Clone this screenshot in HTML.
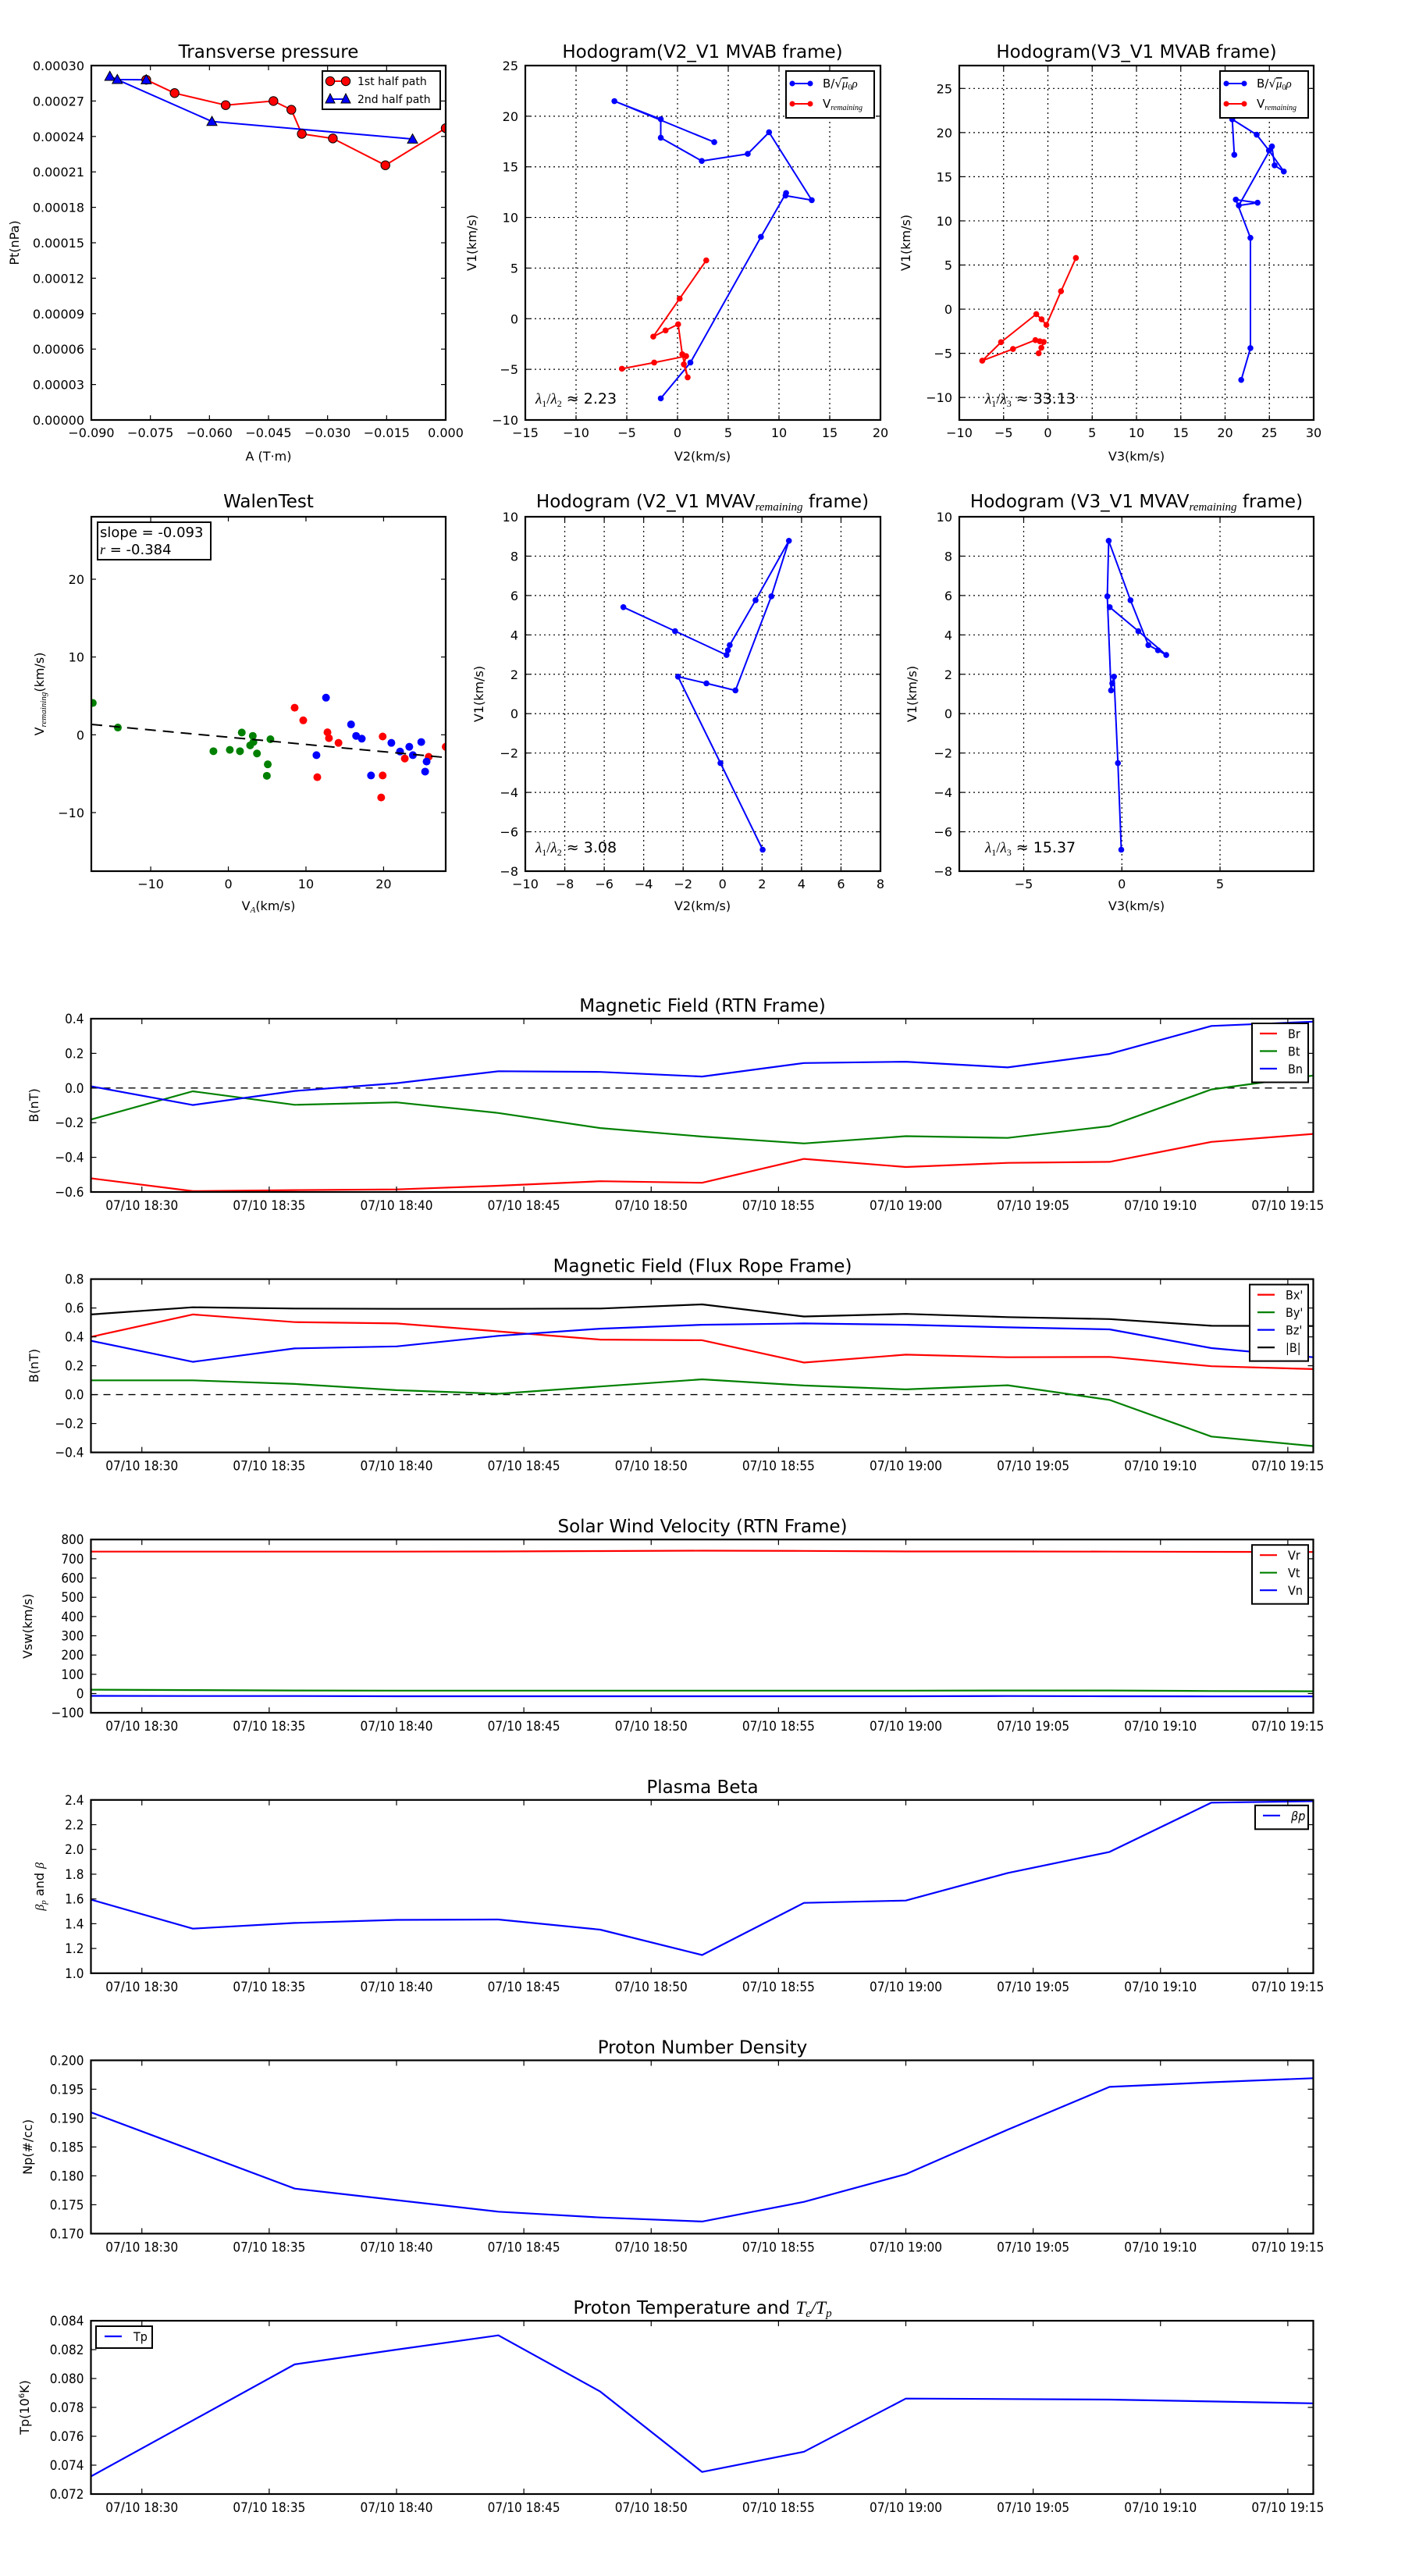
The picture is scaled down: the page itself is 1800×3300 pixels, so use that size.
<!DOCTYPE html>
<html><head><meta charset="utf-8"><title>Flux rope analysis figure</title>
<style>
html,body{margin:0;padding:0;background:#fff;}
svg{display:block;}
text{font-family:"DejaVu Sans","Liberation Sans",sans-serif;fill:#000;}
.cond{font-family:"DejaVu Sans Condensed","DejaVu Sans","Liberation Sans Narrow",sans-serif;}
</style></head>
<body>
<svg id="fig" xmlns="http://www.w3.org/2000/svg" width="1800" height="3300" viewBox="0 0 1800 3300"></svg>
<script>
// ---------- DATA ----------
const ptA1=[-0.07605,-0.06885,-0.05588,-0.04375,-0.0392,-0.03655,-0.02866,-0.01532,0.0];
const ptP1=[0.000288,0.0002767,0.0002665,0.00027,0.0002626,0.0002422,0.0002383,0.0002156,0.000247];
const ptA2=[-0.00842,-0.05937,-0.0853,-0.0834,-0.07605];
const ptP2=[0.0002378,0.0002527,0.0002909,0.0002882,0.000288];
const mvabBV2=[-1.65,1.27,8.22,10.70,10.64,13.23,9.02,6.92,2.39,-1.65,-1.65,-6.22,3.62];
const mvabBV1=[-7.87,-4.33,8.08,12.41,12.16,11.71,18.41,16.28,15.58,17.87,19.70,21.49,17.44];
const mvabVV2=[2.83,0.21,-2.39,-1.18,0.06,0.47,1.00,0.62,0.85,-2.30,-5.48];
const mvabVV1=[5.76,1.98,-1.77,-1.16,-0.55,-3.51,-5.79,-4.51,-3.69,-4.33,-4.94];
const mvabBV3=[21.82,22.86,22.86,21.21,23.67,21.55,25.29,25.59,26.63,24.95,23.57,20.81,21.04];
const mvabBV1b=[-8.01,-4.41,8.08,12.41,12.06,11.75,18.43,16.29,15.59,17.97,19.76,21.50,17.48];
const mvabVV3=[3.16,1.48,-0.17,-0.71,-1.31,-5.29,-7.41,-3.94,-1.41,-0.91,-0.47,-0.74,-1.04];
const mvabVV1b=[5.80,2.03,-1.78,-1.15,-0.56,-3.74,-5.84,-4.51,-3.50,-3.64,-3.71,-4.37,-5.00];
const walGX=[-17.46,-14.23,-1.92,0.19,1.5,1.73,2.81,3.15,3.23,3.69,5.08,4.96,5.42];
const walGY=[4.09,0.93,-2.11,-1.94,-2.11,0.29,-1.36,-0.14,-0.93,-2.4,-3.8,-5.27,-0.57];
const walRX=[8.54,9.65,11.46,12.77,12.96,14.19,19.69,19.88,19.88,22.73,25.81,28.0];
const walRY=[3.48,1.86,-5.45,0.32,-0.43,-1.04,-8.06,-0.22,-5.23,-3.05,-2.83,-1.54];
const walBX=[12.58,11.35,15.81,16.46,17.19,18.38,21.0,22.12,23.31,23.77,24.85,25.54,25.35];
const walBY=[4.77,-2.62,1.33,-0.14,-0.5,-5.23,-1.04,-2.15,-1.54,-2.62,-0.93,-3.44,-4.73];
const walSlope=-0.093;
const walIntercept=-0.31;
const mvavV2=[-5.03,-2.41,0.20,0.27,0.36,1.67,3.36,2.47,0.65,-0.82,-2.26,-0.11,2.03];
const mvavV1=[5.41,4.19,2.98,3.22,3.48,5.76,8.78,5.96,1.18,1.54,1.88,-2.51,-6.91];
const mvavV3=[-0.62,0.84,2.26,1.84,1.35,0.44,-0.67,-0.74,-0.55,-0.49,-0.40,-0.20,-0.03];
const tsTimes=['18:28','18:32','18:36','18:40','18:44','18:48','18:52','18:56','19:00','19:04','19:08','19:12','19:16'];
const tsTickLabels=['07/10 18:30','07/10 18:35','07/10 18:40','07/10 18:45','07/10 18:50','07/10 18:55','07/10 19:00','07/10 19:05','07/10 19:10','07/10 19:15'];
const Br=[-0.521,-0.595,-0.589,-0.585,-0.564,-0.538,-0.547,-0.409,-0.456,-0.432,-0.426,-0.311,-0.265];
const Bt=[-0.182,-0.019,-0.097,-0.083,-0.144,-0.231,-0.28,-0.32,-0.278,-0.288,-0.22,-0.008,0.072];
const Bn=[0.01,-0.098,-0.017,0.028,0.097,0.093,0.066,0.144,0.152,0.119,0.197,0.358,0.383];
const Bxp=[0.40,0.555,0.502,0.493,0.438,0.381,0.377,0.222,0.277,0.259,0.261,0.197,0.177];
const Byp=[0.099,0.099,0.074,0.031,0.006,0.056,0.106,0.063,0.036,0.065,-0.037,-0.29,-0.356];
const Bzp=[0.373,0.227,0.320,0.334,0.407,0.457,0.484,0.493,0.484,0.466,0.452,0.322,0.259];
const Bmag=[0.555,0.605,0.596,0.594,0.594,0.596,0.625,0.541,0.559,0.537,0.523,0.477,0.475];
const Vr=[737,737,737,737,738,740,742,741,738,738,737,736,735];
const Vt=[20,18,16,15,15,15,15,15,15,16,16,13,12];
const Vn=[-12,-13,-13,-14,-14,-14,-14,-14,-14,-13,-14,-15,-15];
const betaP=[1.595,1.36,1.406,1.431,1.434,1.352,1.147,1.568,1.587,1.81,1.98,2.378,2.39];
const Np=[0.1910,0.1844,0.1778,0.1758,0.1738,0.1728,0.1721,0.1755,0.1803,0.1880,0.1954,0.1962,0.1969];
const Tp=[0.07322,0.0771,0.08098,0.0820,0.08299,0.0791,0.07353,0.07493,0.07861,0.07858,0.07854,0.07841,0.07828];

// ---------- HELPERS ----------
const NS='http://www.w3.org/2000/svg';
const svg=document.getElementById('fig');
let clipId=0;
function el(tag,attrs,parent,name){
  const e=document.createElementNS(NS,tag);
  for(const k in attrs) e.setAttribute(k,attrs[k]);
  
  
  (parent||svg).appendChild(e);
  return e;
}
function txt(parent,x,y,str,size,anchor,name,cls){
  const t=el('text',{x:x,y:y,'font-size':size,'text-anchor':anchor||'middle'},parent,name);
  if(cls) t.setAttribute('class',cls);
  t.textContent=str;
  return t;
}
function span(t,str,attrs){
  const s=document.createElementNS(NS,'tspan');
  for(const k in attrs) s.setAttribute(k,attrs[k]);
  s.textContent=str;
  t.appendChild(s);
  return s;
}
function fmtNum(v,d){const s=Math.abs(v).toFixed(d);return (v<-1e-12?'\u2212':'')+s;}

function makePanel(c){
  const g=el('g',{},svg,c.name);
  const sx=v=>c.l+(v-c.x0)/(c.x1-c.x0)*c.w;
  const sy=v=>c.t+c.h-(v-c.y0)/(c.y1-c.y0)*c.h;
  const id='clip'+(clipId++);
  const cp=el('clipPath',{id:id},g,c.name+'-clip');
  el('rect',{x:c.l,y:c.t,width:c.w,height:c.h},cp,c.name+'-clip-rect');
  if(c.grid){
    c.xt.forEach(v=>{const x=sx(v);el('line',{x1:x,x2:x,y1:c.t,y2:c.t+c.h,stroke:'#000','stroke-width':1.2,'stroke-dasharray':'2,4'},g,'x-grid-line');});
    c.yt.forEach(v=>{const y=sy(v);el('line',{x1:c.l,x2:c.l+c.w,y1:y,y2:y,stroke:'#000','stroke-width':1.2,'stroke-dasharray':'2,4'},g,'y-grid-line');});
  }
  const data=el('g',{'clip-path':'url(#'+id+')'},g,c.name+'-data');
  return {g:g,data:data,sx:sx,sy:sy,c:c};
}
function finishPanel(p){
  const c=p.c,g=p.g,tl=c.tick||6;
  const cls=c.cls||null;
  c.xt.forEach((v,i)=>{
    const x=p.sx(v);
    el('line',{x1:x,x2:x,y1:c.t+c.h,y2:c.t+c.h-tl,stroke:'#000','stroke-width':1.2},g,'x-tick');
    el('line',{x1:x,x2:x,y1:c.t,y2:c.t+tl,stroke:'#000','stroke-width':1.2},g,'x-tick-top');
    txt(g,x,c.t+c.h+(c.xlOff||22),c.xlab[i],c.fs||16,'middle','x-tick-label',cls);
  });
  c.yt.forEach((v,i)=>{
    const y=p.sy(v);
    el('line',{x1:c.l,x2:c.l+tl,y1:y,y2:y,stroke:'#000','stroke-width':1.2},g,'y-tick');
    el('line',{x1:c.l+c.w,x2:c.l+c.w-tl,y1:y,y2:y,stroke:'#000','stroke-width':1.2},g,'y-tick-right');
    txt(g,c.l-(c.ylOff||9),y+6,c.ylab[i],c.fs||16,'end','y-tick-label',cls);
  });
  el('rect',{x:c.l,y:c.t,width:c.w,height:c.h,fill:'none',stroke:'#000','stroke-width':2.2},g,'axes-frame');
}
function polyline(p,xs,ys,color,name,w){
  const pts=xs.map((x,i)=>p.sx(x).toFixed(1)+','+p.sy(ys[i]).toFixed(1)).join(' ');
  return el('polyline',{points:pts,fill:'none',stroke:color,'stroke-width':w||2,'stroke-linejoin':'round'},p.data,name);
}
function dots(p,xs,ys,color,r,name,edge){
  xs.forEach((x,i)=>{
    el('circle',{cx:p.sx(x),cy:p.sy(ys[i]),r:r,fill:color,stroke:edge||color,'stroke-width':edge?1:0},p.data,name);
  });
}
function tris(p,xs,ys,color,s,name){
  xs.forEach((x,i)=>{
    const cx=p.sx(x),cy=p.sy(ys[i]);
    el('polygon',{points:cx+','+(cy-s)+' '+(cx-s)+','+(cy+s*0.8)+' '+(cx+s)+','+(cy+s*0.8),fill:color,stroke:'#000','stroke-width':1},p.data,name);
  });
}
function rng(a,b,s){const r=[];for(let v=a;v<=b+1e-9;v+=s)r.push(+v.toFixed(6));return r;}
function title(x,y,str,size,name,cls){return txt(svg,x,y,str,size,'middle',name,cls);}
function ylabel(x,y,str,size,name,cls){
  const t=txt(svg,0,0,str,size,'middle',name,cls);
  t.setAttribute('transform','translate('+x+','+y+') rotate(-90)');
  return t;
}
function lambdaText(x,y,a,b,val,name){
  const t=txt(svg,x,y,'',19,'start',name);
  span(t,'\u03bb',{'font-style':'italic','font-family':'Liberation Serif, serif'});
  span(t,a,{'font-size':12,dy:4,'font-family':'Liberation Serif, serif'});
  span(t,'/',{dy:-4,'font-family':'Liberation Serif, serif'});
  span(t,'\u03bb',{'font-style':'italic','font-family':'Liberation Serif, serif'});
  span(t,b,{'font-size':12,dy:4,'font-family':'Liberation Serif, serif'});
  span(t,' \u2248 '+val,{dy:-4});
}
function hodoLegend(x,y,name){
  const g=el('g',{},svg,name);
  el('rect',{x:x,y:y,width:113,height:60,fill:'#fff',stroke:'#000','stroke-width':2},g,'legend-box');
  el('line',{x1:x+8,x2:x+31,y1:y+16,y2:y+16,stroke:'#0000ff','stroke-width':2},g,'legend-line-b');
  el('circle',{cx:x+8,cy:y+16,r:3.5,fill:'#0000ff'},g,'legend-marker-b');
  el('circle',{cx:x+31,cy:y+16,r:3.5,fill:'#0000ff'},g,'legend-marker-b');
  const t1=txt(g,x+47,y+21,'B/',15,'start','legend-label-b');
  span(t1,'\u221a',{});
  span(t1,'\u03bc',{'font-style':'italic','font-family':'Liberation Serif, serif','text-decoration':'overline'});
  span(t1,'0',{'font-size':10,dy:3,'font-family':'Liberation Serif, serif'});
  span(t1,'\u03c1',{dy:-3,'font-style':'italic','font-family':'Liberation Serif, serif'});
  el('line',{x1:x+8,x2:x+31,y1:y+42,y2:y+42,stroke:'#ff0000','stroke-width':2},g,'legend-line-v');
  el('circle',{cx:x+8,cy:y+42,r:3.5,fill:'#ff0000'},g,'legend-marker-v');
  el('circle',{cx:x+31,cy:y+42,r:3.5,fill:'#ff0000'},g,'legend-marker-v');
  const t2=txt(g,x+47,y+47,'V',15,'start','legend-label-v');
  span(t2,'remaining',{'font-size':10,dy:3,'font-style':'italic','font-family':'Liberation Serif, serif'});
}

// ---------- PANEL 1 ----------
(function(){
  const xt=rng(-0.09,0,0.015), yt=rng(0,0.0003,0.00003);
  const p=makePanel({name:'transverse-pressure-panel',l:117,t:84,w:454,h:454,x0:-0.09,x1:0,y0:0,y1:0.0003,xt:xt,yt:yt,
    xlab:xt.map(v=>fmtNum(v,3)),ylab:yt.map(v=>fmtNum(v,5))});
  polyline(p,ptA1,ptP1,'#ff0000','first-half-line',2);
  polyline(p,ptA2,ptP2,'#0000ff','second-half-line',2);
  dots(p,ptA1,ptP1,'#ff0000',5.7,'first-half-point','#000');
  tris(p,ptA2,ptP2,'#0000ff',6.5,'second-half-point');
  finishPanel(p);
  title(344,74,'Transverse pressure',23,'transverse-pressure-title');
  txt(svg,344,590,'A (T\u00b7m)',16,'middle','x-axis-title');
  ylabel(24,311,'Pt(nPa)',16,'y-axis-title');
  const g=el('g',{},svg,'pressure-legend');
  el('rect',{x:413,y:91,width:151,height:49,fill:'#fff',stroke:'#000','stroke-width':2},g,'legend-box');
  el('line',{x1:423,x2:443,y1:104,y2:104,stroke:'#ff0000','stroke-width':2},g,'legend-line');
  el('circle',{cx:423,cy:104,r:5.7,fill:'#ff0000',stroke:'#000','stroke-width':1},g,'legend-marker');
  el('circle',{cx:443,cy:104,r:5.7,fill:'#ff0000',stroke:'#000','stroke-width':1},g,'legend-marker');
  txt(g,458,109,'1st half path',14,'start','legend-label-first');
  el('line',{x1:423,x2:443,y1:127,y2:127,stroke:'#0000ff','stroke-width':2},g,'legend-line');
  el('polygon',{points:'423,120 417,132 429,132',fill:'#0000ff',stroke:'#000','stroke-width':1},g,'legend-marker');
  el('polygon',{points:'443,120 437,132 449,132',fill:'#0000ff',stroke:'#000','stroke-width':1},g,'legend-marker');
  txt(g,458,132,'2nd half path',14,'start','legend-label-second');
})();

// ---------- PANEL 2 ----------
(function(){
  const xt=rng(-15,20,5), yt=rng(-10,25,5);
  const p=makePanel({name:'hodogram-v2-v1-mvab-panel',l:673,t:84,w:455,h:454,x0:-15,x1:20,y0:-10,y1:25,xt:xt,yt:yt,grid:true,
    xlab:xt.map(v=>fmtNum(v,0)),ylab:yt.map(v=>fmtNum(v,0))});
  polyline(p,mvabBV2,mvabBV1,'#0000ff','b-hodogram-line',2);
  dots(p,mvabBV2,mvabBV1,'#0000ff',3.8,'b-hodogram-point');
  polyline(p,mvabVV2,mvabVV1,'#ff0000','v-hodogram-line',2);
  dots(p,mvabVV2,mvabVV1,'#ff0000',3.8,'v-hodogram-point');
  finishPanel(p);
  title(900,74,'Hodogram(V2_V1 MVAB frame)',23,'hodogram-v2-v1-mvab-title');
  txt(svg,900,590,'V2(km/s)',16,'middle','x-axis-title');
  ylabel(610,311,'V1(km/s)',16,'y-axis-title');
  lambdaText(686,517,'1','2','2.23','eigenvalue-ratio');
  hodoLegend(1007,91,'hodogram-legend');
})();

// ---------- PANEL 3 ----------
(function(){
  const xt=rng(-10,30,5), yt=rng(-10,25,5);
  const p=makePanel({name:'hodogram-v3-v1-mvab-panel',l:1229,t:84,w:454,h:454,x0:-10,x1:30,y0:-12.55,y1:27.59,xt:xt,yt:yt,grid:true,
    xlab:xt.map(v=>fmtNum(v,0)),ylab:yt.map(v=>fmtNum(v,0))});
  polyline(p,mvabBV3,mvabBV1b,'#0000ff','b-hodogram-line',2);
  dots(p,mvabBV3,mvabBV1b,'#0000ff',3.8,'b-hodogram-point');
  polyline(p,mvabVV3,mvabVV1b,'#ff0000','v-hodogram-line',2);
  dots(p,mvabVV3,mvabVV1b,'#ff0000',3.8,'v-hodogram-point');
  finishPanel(p);
  title(1456,74,'Hodogram(V3_V1 MVAB frame)',23,'hodogram-v3-v1-mvab-title');
  txt(svg,1456,590,'V3(km/s)',16,'middle','x-axis-title');
  ylabel(1166,311,'V1(km/s)',16,'y-axis-title');
  lambdaText(1262,517,'1','3','33.13','eigenvalue-ratio');
  hodoLegend(1563,91,'hodogram-legend');
})();

// ---------- PANEL 4: Walen ----------
(function(){
  const xt=[-10,0,10,20], yt=[-10,0,10,20];
  const p=makePanel({name:'walen-test-panel',l:117,t:662,w:454,h:454,x0:-17.65,x1:28.0,y0:-17.53,y1:28.03,xt:xt,yt:yt,
    xlab:xt.map(v=>fmtNum(v,0)),ylab:yt.map(v=>fmtNum(v,0))});
  dots(p,walGX,walGY,'#008000',5,'walen-point-green');
  dots(p,walRX,walRY,'#ff0000',5,'walen-point-red');
  dots(p,walBX,walBY,'#0000ff',5,'walen-point-blue');
  const fx=[p.c.x0,p.c.x1];
  const fy=fx.map(x=>walIntercept+walSlope*x);
  const fl=polyline(p,fx,fy,'#000','walen-fit-line',2);
  fl.setAttribute('stroke-dasharray','14,9');
  finishPanel(p);
  title(344,650,'WalenTest',23,'walen-test-title');
  const xl=txt(svg,344,1166,'V',16,'middle','x-axis-title');
  span(xl,'A',{'font-size':11,dy:3,'font-style':'italic','font-family':'Liberation Serif, serif'});
  span(xl,'(km/s)',{dy:-3});
  const yl=txt(svg,0,0,'V',16,'middle','y-axis-title');
  yl.setAttribute('transform','translate(56,889) rotate(-90)');
  span(yl,'remaining',{'font-size':11,dy:3,'font-style':'italic','font-family':'Liberation Serif, serif'});
  span(yl,'(km/s)',{dy:-3});
  const g=el('g',{},svg,'walen-stats-box');
  el('rect',{x:125,y:669,width:145,height:48,fill:'#fff',stroke:'#000','stroke-width':2},g,'stats-box');
  txt(g,128,688,'slope = -0.093',18,'start','slope-text');
  const r=txt(g,128,710,'',18,'start','correlation-text');
  span(r,'r',{'font-style':'italic','font-family':'Liberation Serif, serif'});
  span(r,' = -0.384',{});
})();

// ---------- PANEL 5 ----------
(function(){
  const xt=rng(-10,8,2), yt=rng(-8,10,2);
  const p=makePanel({name:'hodogram-v2-v1-mvav-panel',l:673,t:662,w:455,h:454,x0:-10,x1:8,y0:-8,y1:10,xt:xt,yt:yt,grid:true,
    xlab:xt.map(v=>fmtNum(v,0)),ylab:yt.map(v=>fmtNum(v,0))});
  polyline(p,mvavV2,mvavV1,'#0000ff','mvav-hodogram-line',2);
  dots(p,mvavV2,mvavV1,'#0000ff',3.8,'mvav-hodogram-point');
  finishPanel(p);
  const t=title(900,650,'Hodogram (V2_V1 MVAV',23,'hodogram-v2-v1-mvav-title');
  span(t,'remaining',{'font-size':15,dy:4,'font-style':'italic','font-family':'Liberation Serif, serif'});
  span(t,' frame)',{dy:-4});
  txt(svg,900,1166,'V2(km/s)',16,'middle','x-axis-title');
  ylabel(619,889,'V1(km/s)',16,'y-axis-title');
  lambdaText(686,1092,'1','2','3.08','eigenvalue-ratio');
})();

// ---------- PANEL 6 ----------
(function(){
  const xt=[-5,0,5], yt=rng(-8,10,2);
  const p=makePanel({name:'hodogram-v3-v1-mvav-panel',l:1229,t:662,w:454,h:454,x0:-8.28,x1:9.77,y0:-8,y1:10,xt:xt,yt:yt,grid:true,
    xlab:xt.map(v=>fmtNum(v,0)),ylab:yt.map(v=>fmtNum(v,0))});
  polyline(p,mvavV3,mvavV1,'#0000ff','mvav-hodogram-line',2);
  dots(p,mvavV3,mvavV1,'#0000ff',3.8,'mvav-hodogram-point');
  finishPanel(p);
  const t=title(1456,650,'Hodogram (V3_V1 MVAV',23,'hodogram-v3-v1-mvav-title');
  span(t,'remaining',{'font-size':15,dy:4,'font-style':'italic','font-family':'Liberation Serif, serif'});
  span(t,' frame)',{dy:-4});
  txt(svg,1456,1166,'V3(km/s)',16,'middle','x-axis-title');
  ylabel(1174,889,'V1(km/s)',16,'y-axis-title');
  lambdaText(1262,1092,'1','3','15.37','eigenvalue-ratio');
})();

// ---------- TIME SERIES ----------
const tsMin=tsTimes.map(s=>{const a=s.split(':');return (+a[0])*60+(+a[1])-(18*60+28);});
const tsTicks=tsTickLabels.map((s,i)=>2+5*i);
function tsPanel(idx,name,y0,y1,yt,ylab,series,legend,legendPos,dashed0){
  const ptop=1305+idx*333.6;
  const p=makePanel({name:name,l:116.5,t:ptop,w:1566,h:222,x0:0,x1:48,y0:y0,y1:y1,xt:tsTicks,yt:yt,
    xlab:tsTickLabels,ylab:ylab,cls:'cond',fs:17,xlOff:23,tick:7});
  if(dashed0){
    const y=p.sy(0);
    el('line',{x1:116.5,x2:1682.5,y1:y,y2:y,stroke:'#000','stroke-width':1.4,'stroke-dasharray':'9,7'},p.data,'zero-reference-line');
  }
  series.forEach(s=>polyline(p,tsMin,s.v,s.c,s.n,2.2));
  finishPanel(p);
  if(legend){
    const g=el('g',{},svg,name+'-legend');
    const lx=legendPos[0],ly=ptop+legendPos[1];
    const h=legend.length*22.5+8;
    el('rect',{x:lx,y:ly,width:1676-lx,height:h,fill:'#fff',stroke:'#000','stroke-width':2},g,'legend-box');
    legend.forEach((s,i)=>{
      const yy=ly+13+i*22.5;
      el('line',{x1:lx+10,x2:lx+32,y1:yy,y2:yy,stroke:s.c,'stroke-width':2.2},g,'legend-line');
      const t=txt(g,lx+46,yy+6,s.n,16,'start','legend-label','cond');
      if(s.it){t.setAttribute('font-style','italic');t.setAttribute('font-family','Liberation Serif, serif');}
    });
  }
  return ptop;
}
let panTop;
panTop=tsPanel(0,'magnetic-field-rtn-panel',-0.6,0.4,rng(-0.6,0.4,0.2),rng(-0.6,0.4,0.2).map(v=>fmtNum(v,1)),
  [{v:Br,c:'#ff0000',n:'br-line'},{v:Bt,c:'#008000',n:'bt-line'},{v:Bn,c:'#0000ff',n:'bn-line'}],
  [{n:'Br',c:'#ff0000'},{n:'Bt',c:'#008000'},{n:'Bn',c:'#0000ff'}],[1604,6],true);
title(900,panTop-9,'Magnetic Field (RTN Frame)',23,'magnetic-field-rtn-title');
ylabel(49,panTop+111,'B(nT)',16,'y-axis-title');

panTop=tsPanel(1,'magnetic-field-flux-rope-panel',-0.4,0.8,rng(-0.4,0.8,0.2),rng(-0.4,0.8,0.2).map(v=>fmtNum(v,1)),
  [{v:Bmag,c:'#000',n:'bmag-line'},{v:Bxp,c:'#ff0000',n:'bx-line'},{v:Bzp,c:'#0000ff',n:'bz-line'},{v:Byp,c:'#008000',n:'by-line'}],
  [{n:"Bx'",c:'#ff0000'},{n:"By'",c:'#008000'},{n:"Bz'",c:'#0000ff'},{n:'|B|',c:'#000'}],[1601,7],true);
title(900,panTop-9,'Magnetic Field (Flux Rope Frame)',23,'magnetic-field-flux-rope-title');
ylabel(49,panTop+111,'B(nT)',16,'y-axis-title');

panTop=tsPanel(2,'solar-wind-velocity-panel',-100,800,rng(-100,800,100),rng(-100,800,100).map(v=>fmtNum(v,0)),
  [{v:Vr,c:'#ff0000',n:'vr-line'},{v:Vt,c:'#008000',n:'vt-line'},{v:Vn,c:'#0000ff',n:'vn-line'}],
  [{n:'Vr',c:'#ff0000'},{n:'Vt',c:'#008000'},{n:'Vn',c:'#0000ff'}],[1604,7],false);
title(900,panTop-9,'Solar Wind Velocity (RTN Frame)',23,'solar-wind-velocity-title');
ylabel(41,panTop+111,'Vsw(km/s)',16,'y-axis-title');

panTop=tsPanel(3,'plasma-beta-panel',1.0,2.4,rng(1.0,2.4,0.2),rng(1.0,2.4,0.2).map(v=>fmtNum(v,1)),
  [{v:betaP,c:'#0000ff',n:'beta-p-line'}],
  [{n:'\u03b2p',c:'#0000ff',it:true}],[1608,7],false);
title(900,panTop-9,'Plasma Beta',23,'plasma-beta-title');
(function(){
  const t=txt(svg,0,0,'',16,'middle','y-axis-title');
  t.setAttribute('transform','translate(56,'+(panTop+111)+') rotate(-90)');
  span(t,'\u03b2',{'font-style':'italic','font-family':'Liberation Serif, serif'});
  span(t,'p',{'font-size':11,dy:3,'font-style':'italic','font-family':'Liberation Serif, serif'});
  span(t,' and ',{dy:-3});
  span(t,'\u03b2',{'font-style':'italic','font-family':'Liberation Serif, serif'});
})();

panTop=tsPanel(4,'proton-density-panel',0.17,0.2,rng(0.17,0.2,0.005),rng(0.17,0.2,0.005).map(v=>fmtNum(v,3)),
  [{v:Np,c:'#0000ff',n:'np-line'}],null,null,false);
title(900,panTop-9,'Proton Number Density',23,'proton-density-title');
ylabel(41,panTop+111,'Np(#/cc)',16,'y-axis-title');

panTop=tsPanel(5,'proton-temperature-panel',0.072,0.084,rng(0.072,0.084,0.002),rng(0.072,0.084,0.002).map(v=>fmtNum(v,3)),
  [{v:Tp,c:'#0000ff',n:'tp-line'}],null,null,false);
(function(){
  const t=title(900,panTop-9,'Proton Temperature and ',23,'proton-temperature-title');
  span(t,'T',{'font-style':'italic','font-family':'Liberation Serif, serif'});
  span(t,'e',{'font-size':15,dy:4,'font-style':'italic','font-family':'Liberation Serif, serif'});
  span(t,'/T',{dy:-4,'font-style':'italic','font-family':'Liberation Serif, serif'});
  span(t,'p',{'font-size':15,dy:4,'font-style':'italic','font-family':'Liberation Serif, serif'});
  const y=txt(svg,0,0,'Tp(10',16,'middle','y-axis-title');
  y.setAttribute('transform','translate(37,'+(panTop+111)+') rotate(-90)');
  span(y,'6',{'font-size':10,dy:-6});
  span(y,'K)',{dy:6});
  const g=el('g',{},svg,'temperature-legend');
  el('rect',{x:123,y:panTop+7,width:72,height:28,fill:'#fff',stroke:'#000','stroke-width':2},g,'legend-box');
  el('line',{x1:134,x2:156,y1:panTop+20,y2:panTop+20,stroke:'#0000ff','stroke-width':2.2},g,'legend-line');
  txt(g,171,panTop+26,'Tp',16,'start','legend-label','cond');
})();
</script>
</body></html>
